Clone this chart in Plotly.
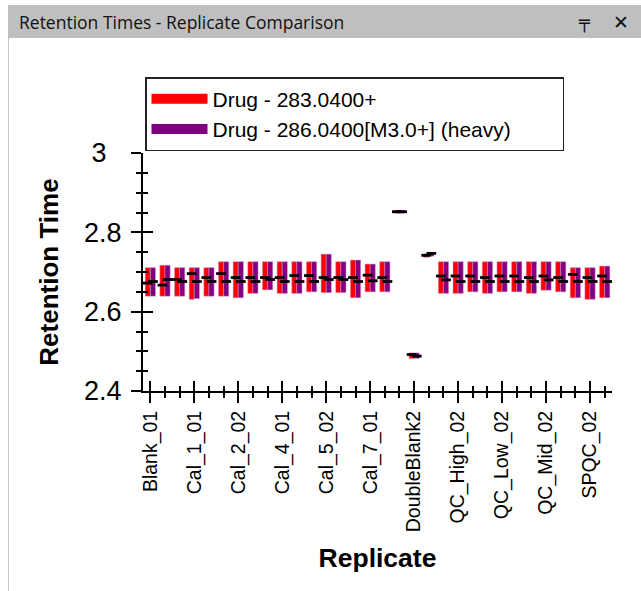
import plotly.graph_objects as go

# ---------------- data ----------------
replicates = [
    "Blank_01", "Blank_02", "Blank_03", "Cal_1_01", "Cal_1_02", "Cal_2_01",
    "Cal_2_02", "Cal_3_01", "Cal_3_02", "Cal_4_01", "Cal_4_02", "Cal_5_01",
    "Cal_5_02", "Cal_6_01", "Cal_6_02", "Cal_7_01", "Cal_7_02", "DoubleBlank1",
    "DoubleBlank2", "DoubleBlank3", "QC_High_01", "QC_High_02", "QC_High_03",
    "QC_Low_01", "QC_Low_02", "QC_Low_03", "QC_Mid_01", "QC_Mid_02",
    "QC_Mid_03", "SPQC_01", "SPQC_02", "SPQC_03",
]

light_start = [2.639, 2.639, 2.639, 2.631, 2.639, 2.639, 2.635, 2.646, 2.655, 2.646,
               2.646, 2.650, 2.648, 2.648, 2.635, 2.650, 2.650, 2.848, 2.482, 2.737,
               2.646, 2.646, 2.650, 2.646, 2.650, 2.650, 2.646, 2.654, 2.650, 2.635,
               2.631, 2.635]
light_end = [2.711, 2.717, 2.711, 2.711, 2.711, 2.726, 2.726, 2.726, 2.726, 2.726,
             2.726, 2.726, 2.745, 2.726, 2.730, 2.720, 2.726, 2.856, 2.496, 2.746,
             2.726, 2.726, 2.726, 2.726, 2.726, 2.726, 2.726, 2.726, 2.726, 2.711,
             2.711, 2.715]
light_rt = [2.672, 2.667, 2.681, 2.696, 2.686, 2.696, 2.686, 2.686, 2.686, 2.686,
            2.691, 2.691, 2.686, 2.686, 2.686, 2.692, 2.686, 2.852, 2.492, 2.742,
            2.690, 2.690, 2.690, 2.686, 2.690, 2.690, 2.686, 2.690, 2.686, 2.694,
            2.686, 2.690]

heavy_start = [2.639, 2.639, 2.639, 2.633, 2.639, 2.639, 2.635, 2.646, 2.655, 2.646,
               2.646, 2.650, 2.648, 2.648, 2.635, 2.650, 2.650, 2.848, 2.482, 2.740,
               2.646, 2.646, 2.650, 2.646, 2.650, 2.650, 2.646, 2.654, 2.650, 2.635,
               2.631, 2.635]
heavy_end = [2.711, 2.717, 2.711, 2.711, 2.711, 2.726, 2.726, 2.726, 2.726, 2.726,
             2.726, 2.726, 2.745, 2.726, 2.730, 2.720, 2.726, 2.856, 2.496, 2.749,
             2.726, 2.726, 2.726, 2.726, 2.726, 2.726, 2.726, 2.726, 2.726, 2.711,
             2.711, 2.715]
heavy_rt = [2.676, 2.681, 2.676, 2.676, 2.676, 2.676, 2.676, 2.676, 2.681, 2.676,
            2.676, 2.676, 2.681, 2.681, 2.676, 2.678, 2.676, 2.852, 2.488, 2.747,
            2.680, 2.676, 2.676, 2.676, 2.676, 2.676, 2.676, 2.680, 2.676, 2.676,
            2.676, 2.676]

series_names = ["Drug - 283.0400+", "Drug - 286.0400[M3.0+] (heavy)"]
series_colors = ["#FF0000", "#800080"]
label_step = 3
y_tick_vals = [2.4, 2.6, 2.8, 3.0]
y_tick_text = ["2.4", "2.6", "2.8", "3\u00a0\u00a0"]
y_range = [2.4, 3.0]
window_title = "Retention Times - Replicate Comparison"

# ---------------- geometry helpers (layout only) ----------------
W, H = 641, 591
PL, PR, PT, PB = 143, 612, 153, 391
def px(x):
    return (x - PL) / (PR - PL)
def py(y):
    return (PB - y) / (PB - PT)

idx = list(range(len(replicates)))
tick_vals = idx[::label_step]
tick_text = replicates[::label_step]
bw = 0.35
FONT = "Liberation Sans, Arial, sans-serif"
legend_pad = "\u00a0" * 8  # invisible right padding inside the legend box

fig = go.Figure()

for start, end, color, off in [
    (light_start, light_end, series_colors[0], -bw),
    (heavy_start, heavy_end, series_colors[1], 0.0),
]:
    fig.add_trace(go.Bar(
        x=idx, y=[e - s for s, e in zip(start, end)], base=start,
        width=bw, offset=off,
        marker=dict(color=color, line=dict(width=0.6, color="rgba(210,150,220,0.8)")),
        showlegend=False, hoverinfo="skip",
    ))
for rt, off in [(light_rt, -bw / 2), (heavy_rt, bw / 2)]:
    fig.add_trace(go.Scatter(
        x=[i + off for i in idx], y=rt, mode="markers",
        marker=dict(symbol="line-ew", size=7, line=dict(width=2.8, color="black")),
        showlegend=False, hoverinfo="skip",
    ))

for name, color in zip(series_names, series_colors):
    fig.add_trace(go.Scatter(x=[None], y=[None], mode="lines", name=name + legend_pad,
                             line=dict(color=color, width=13)))

# dummy trace for the overlay axes (inside half of crossing ticks)
fig.add_trace(go.Scatter(x=[None], y=[None], xaxis="x2", yaxis="y2",
                         showlegend=False, hoverinfo="skip"))

tickcommon = dict(tickcolor="black", tickwidth=2)
fig.update_layout(
    width=W, height=H,
    margin=dict(l=PL, r=W - PR, t=PT, b=H - PB, autoexpand=False),
    paper_bgcolor="white", plot_bgcolor="white",
    font=dict(family=FONT, color="black"),
    barmode="overlay",
    xaxis=dict(
        range=[-0.5, len(replicates) - 0.5], tickmode="array",
        tickvals=tick_vals, ticktext=tick_text, ticks="outside", ticklen=10,
        tickangle=-90, tickfont=dict(size=19.5), showline=True, linecolor="black",
        linewidth=2, showgrid=False, zeroline=False, ticklabelstandoff=0,
        minor=dict(tickmode="array", tickvals=idx, ticks="outside", ticklen=5, **tickcommon),
        title=dict(text="<b>Replicate</b>", font=dict(size=26.5), standoff=17),
        **tickcommon,
    ),
    yaxis=dict(
        range=y_range, tickmode="array", tickvals=y_tick_vals, ticktext=y_tick_text,
        ticks="outside", ticklen=10, tickfont=dict(size=27), showline=True,
        linecolor="black", linewidth=2, showgrid=False, zeroline=False,
        ticklabelstandoff=4,
        minor=dict(dtick=0.05, tick0=2.4, ticks="outside", ticklen=5, **tickcommon),
        title=dict(text="<b>Retention Time</b>", font=dict(size=26), standoff=18),
        **tickcommon,
    ),
    xaxis2=dict(
        overlaying="x", anchor="y2", range=[-0.5, len(replicates) - 0.5],
        tickmode="array", tickvals=tick_vals, ticks="inside", ticklen=10,
        showticklabels=False, showline=False, showgrid=False, zeroline=False,
        minor=dict(tickmode="array", tickvals=idx, ticks="inside", ticklen=5, **tickcommon),
        **tickcommon,
    ),
    yaxis2=dict(
        overlaying="y", anchor="x2", range=y_range, tickmode="array",
        tickvals=y_tick_vals, ticks="inside", ticklen=10, showticklabels=False,
        showline=False, showgrid=False, zeroline=False,
        minor=dict(dtick=0.05, tick0=2.4, ticks="inside", ticklen=5, **tickcommon),
        **tickcommon,
    ),
    legend=dict(
        x=px(145), y=py(77), xanchor="left", yanchor="top",
        bgcolor="white", bordercolor="#222", borderwidth=1.5,
        font=dict(size=21), itemwidth=56, tracegroupgap=0,
    ),
    shapes=[
        dict(type="rect", xref="paper", yref="paper", x0=px(8), x1=px(641),
             y0=py(38), y1=py(5), fillcolor="#BFBFBF", line=dict(width=0), layer="below"),
        dict(type="line", xref="paper", yref="paper", x0=px(8.5), x1=px(8.5),
             y0=py(38), y1=py(591), line=dict(color="#C8C8C8", width=1)),
    ],
    annotations=[
        dict(text=window_title, xref="paper", yref="paper", x=px(17), y=py(22),
             xanchor="left", yanchor="middle", showarrow=False,
             font=dict(family="Open Sans, sans-serif", size=17.5, color="#111")),
        dict(text="╤", xref="paper", yref="paper", x=px(584), y=py(22),
             xanchor="center", yanchor="middle", showarrow=False,
             font=dict(family="DejaVu Sans", size=18, color="#111")),
        dict(text="✕", xref="paper", yref="paper", x=px(621), y=py(22),
             xanchor="center", yanchor="middle", showarrow=False,
             font=dict(family="DejaVu Sans", size=19, color="#111")),
    ],
)

fig.write_html(
    "out.html",
    config={"displayModeBar": False},
    post_script="document.body.style.margin='0';document.body.style.overflow='hidden';",
)
